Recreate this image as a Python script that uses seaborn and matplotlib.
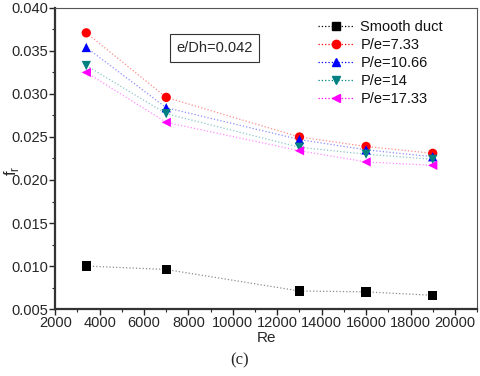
import matplotlib
matplotlib.use("Agg")
import matplotlib.pyplot as plt
from matplotlib.lines import Line2D
from matplotlib.ticker import MultipleLocator, AutoMinorLocator
import seaborn as sns
import pandas as pd

re_vals = [3400, 7000, 13000, 16000, 19000]
smooth = [0.0100, 0.0096, 0.0071, 0.0070, 0.0066]
pe_733 = [0.0371, 0.0296, 0.0250, 0.0239, 0.0231]
pe_1066 = [0.0354, 0.0284, 0.0247, 0.0235, 0.0227]
pe_14 = [0.0333, 0.0277, 0.0238, 0.0230, 0.0224]
pe_1733 = [0.0325, 0.0267, 0.0234, 0.0221, 0.0217]

labels = ["Smooth duct", "P/e=7.33", "P/e=10.66", "P/e=14", "P/e=17.33"]
colors = ["#000000", "#ff0000", "#0000ff", "#008080", "#ff00ff"]
markers = ["s", "o", "^", "v", "<"]

series = [smooth, pe_733, pe_1066, pe_14, pe_1733]
rows = []
for lab, ys in zip(labels, series):
    for x, y in zip(re_vals, ys):
        rows.append({"Re": x, "fr": y, "case": lab})
df = pd.DataFrame(rows)

sns.set_style("ticks")
plt.rcParams["font.family"] = ["Liberation Sans", "DejaVu Sans"]

fig = plt.figure(figsize=(4.8, 3.76), dpi=100)
ax = fig.add_axes([0.115, 0.178, 0.879, 0.801])

palette = dict(zip(labels, colors))
sns.lineplot(data=df, x="Re", y="fr", hue="case", palette=palette, ax=ax,
             linestyle=":", linewidth=0.9, alpha=0.45, legend=False)
sns.scatterplot(data=df, x="Re", y="fr", hue="case", style="case",
                palette=palette, markers=dict(zip(labels, markers)),
                s=45, edgecolor="none", ax=ax, legend=False, zorder=3)

ax.set_xlim(2000, 21000)
ax.set_ylim(0.005, 0.040)
ax.xaxis.set_major_locator(MultipleLocator(2000))
ax.yaxis.set_major_locator(MultipleLocator(0.005))
ax.yaxis.set_minor_locator(AutoMinorLocator(2))
ax.xaxis.set_minor_locator(AutoMinorLocator(2))
ax.yaxis.set_major_formatter(plt.FormatStrFormatter("%.3f"))
ax.tick_params(axis="both", which="major", labelsize=10.5, length=4, width=1, pad=1)
ax.tick_params(axis="both", which="minor", length=2, width=0.8)

for side in ["left", "bottom"]:
    ax.spines[side].set_linewidth(1.6)
    ax.spines[side].set_color("#333333")
for side in ["top", "right"]:
    ax.spines[side].set_linewidth(0.8)
    ax.spines[side].set_color("#555555")

ax.set_xlabel("Re", fontsize=11, labelpad=1)
ax.set_ylabel(r"f$_\mathregular{r}$", fontsize=12)
ax.yaxis.set_label_coords(-0.082, 0.46)

handles = [Line2D([0], [0], color=c, linestyle=":", linewidth=0.9,
                  marker=m, markersize=6, markerfacecolor=c, markeredgecolor=c)
           for c, m in zip(colors, markers)]
leg = ax.legend(handles, labels, loc="upper right", frameon=False, fontsize=10.5,
                handlelength=2.4, handletextpad=0.5, labelspacing=0.28,
                borderaxespad=0.2, bbox_to_anchor=(0.94, 0.99))
for t in leg.get_texts():
    t.set_color("#111111")

ax.text(0.377, 0.867, "e/Dh=0.042", transform=ax.transAxes, fontsize=10.5,
        ha="center", va="center",
        bbox=dict(boxstyle="square,pad=0.45", facecolor="white",
                  edgecolor="#333333", linewidth=0.8))

fig.text(0.5, 0.03, "(c)", fontsize=12, ha="center",
         family=["Liberation Serif", "DejaVu Serif"])

fig.savefig("out.png", dpi=100)
